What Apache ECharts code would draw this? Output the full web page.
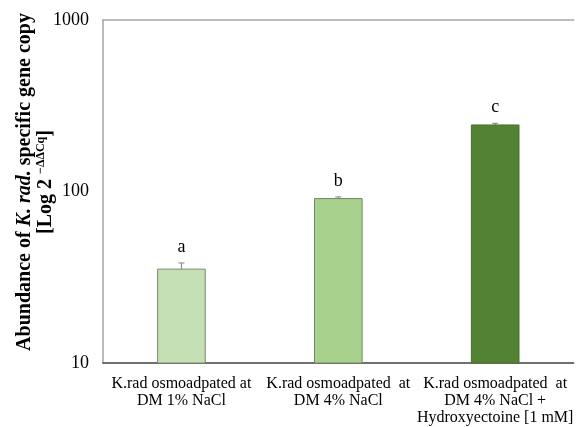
<!DOCTYPE html>
<html><head><meta charset="utf-8">
<script src="https://cdn.jsdelivr.net/npm/echarts@6/dist/echarts.min.js"></script>
<style>html,body{margin:0;padding:0;background:#fff}#c{width:576px;height:427px}</style>
</head><body><div id="c"></div>
<script>
const categories = [
  'K.rad osmoadpated at\nDM 1% NaCl',
  'K.rad osmoadpated  at\nDM 4% NaCl',
  'K.rad osmoadpated  at\nDM 4% NaCl +\nHydroxyectoine [1 mM]'
];
const values = [35.5, 91.5, 246];
const errors = [2.8, 1.5, 4];
const letters = ['a', 'b', 'c'];
const barColors = ['#c5e0b4', '#a9d18e', '#548235'];
const borderColors = ['#7a8a70', '#6f8a5e', '#4a6e2e'];
const yTicks = [10, 100, 1000];

const serif = '"Liberation Serif","Times New Roman",serif';
const chart = echarts.init(document.getElementById('c'));
chart.setOption({
  animation: false,
  grid: {left: 103, right: 0, top: 20, bottom: 64},
  xAxis: [{
    type: 'category', data: categories,
    axisLine: {lineStyle: {color: '#404040', width: 1.5}},
    axisTick: {show: false},
    axisLabel: {color: '#000', fontFamily: serif, fontSize: 16, lineHeight: 17, margin: 12, interval: 0}
  }, {
    type: 'category', data: categories, position: 'top',
    axisLine: {lineStyle: {color: '#a6a6a6', width: 1.5}},
    axisTick: {show: false}, axisLabel: {show: false}
  }],
  yAxis: {
    type: 'log', logBase: 10, min: 10, max: 1000,
    axisLine: {show: true, lineStyle: {color: '#a6a6a6', width: 1.5}},
    axisTick: {show: false},
    splitLine: {show: false},
    axisLabel: {color: '#000', fontFamily: serif, fontSize: 18, margin: 14,
      formatter: v => yTicks.indexOf(Math.round(v)) >= 0 ? String(Math.round(v)) : ''}
  },
  graphic: [{
    type: 'text', x: 35, y: 182, rotation: Math.PI / 2,
    style: {
      text: '{b|Abundance of }{bi|K. rad.}{b| specific gene copy}\n{b|[Log 2 }{sup|−ΔΔCq}{b|]}',
      align: 'center', verticalAlign: 'middle',
      rich: {
        b: {fontFamily: serif, fontWeight: 'bold', fontSize: 20, fill: '#000', lineHeight: 21},
        bi: {fontFamily: serif, fontWeight: 'bold', fontStyle: 'italic', fontSize: 20, fill: '#000', lineHeight: 21},
        sup: {fontFamily: serif, fontWeight: 'bold', fontSize: 12, fill: '#000', verticalAlign: 'top', lineHeight: 21, padding: [0, 0, 8, 0]}
      }
    }
  }],
  series: [{
    type: 'bar', barWidth: '31%',
    data: values.map((v, i) => ({value: v, itemStyle: {color: barColors[i], borderColor: borderColors[i], borderWidth: 1}}))
  }, {
    type: 'custom',
    data: values.map((v, i) => [i, v, errors[i], letters[i]]),
    renderItem: function (params, api) {
      const x = api.value(0), v = api.value(1), e = api.value(2);
      const top = api.coord([x, v + e]);
      const bot = api.coord([x, v - e]);
      const hw = 3;
      return {type: 'group', children: [
        {type: 'line', shape: {x1: top[0], y1: top[1], x2: bot[0], y2: bot[1]}, style: {stroke: '#7f7f7f', lineWidth: 1}},
        {type: 'line', shape: {x1: top[0] - hw, y1: top[1], x2: top[0] + hw, y2: top[1]}, style: {stroke: '#7f7f7f', lineWidth: 1}},
        {type: 'line', shape: {x1: bot[0] - hw, y1: bot[1], x2: bot[0] + hw, y2: bot[1]}, style: {stroke: '#7f7f7f', lineWidth: 1}},
        {type: 'text', x: top[0], y: top[1] - 7, style: {text: letters[params.dataIndex], fontFamily: serif, fontSize: 18, fill: '#000', align: 'center', verticalAlign: 'bottom'}}
      ]};
    }
  }]
});
</script></body></html>
